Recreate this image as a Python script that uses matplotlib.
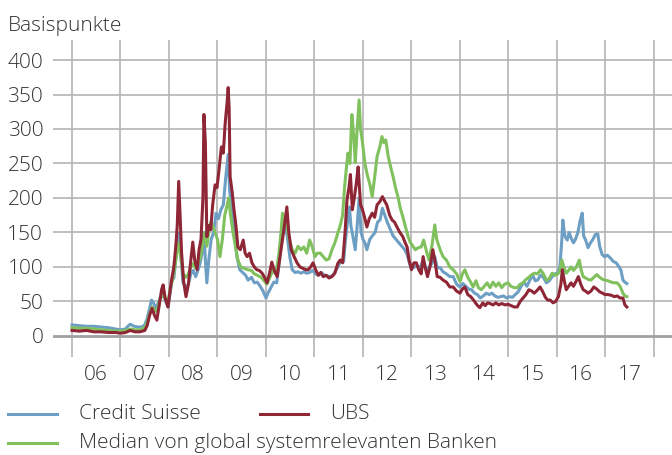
import matplotlib
matplotlib.use("Agg")
import matplotlib.pyplot as plt
from matplotlib.lines import Line2D

plt.rcParams['font.family'] = ['Open Sans', 'DejaVu Sans']
plt.rcParams['font.weight'] = 'light'

# ---------------- data (decimal years, basis points) ----------------
ubs_t = [2006.00, 2006.15, 2006.30, 2006.45, 2006.60, 2006.75, 2006.90, 2007.00, 2007.10, 2007.20,
         2007.30, 2007.40, 2007.50, 2007.55, 2007.60, 2007.65, 2007.70, 2007.75, 2007.80, 2007.85,
         2007.88, 2007.92, 2007.98, 2008.03, 2008.06, 2008.10, 2008.14, 2008.17, 2008.20, 2008.23,
         2008.26, 2008.30, 2008.35, 2008.40, 2008.45, 2008.49, 2008.53, 2008.58, 2008.62, 2008.66,
         2008.70, 2008.72, 2008.75, 2008.78, 2008.82, 2008.86, 2008.90, 2008.95, 2008.99, 2009.03,
         2009.08, 2009.12, 2009.16, 2009.20, 2009.22, 2009.24, 2009.26, 2009.30, 2009.34, 2009.38,
         2009.42, 2009.47, 2009.53, 2009.57, 2009.61, 2009.66, 2009.71, 2009.76, 2009.81, 2009.86,
         2009.92, 2009.97, 2010.02, 2010.07, 2010.12, 2010.17, 2010.23, 2010.28, 2010.33, 2010.38,
         2010.43, 2010.47, 2010.52, 2010.58, 2010.64, 2010.70, 2010.76, 2010.82, 2010.87, 2010.92,
         2010.97, 2011.03, 2011.08, 2011.13, 2011.18, 2011.24, 2011.30, 2011.36, 2011.42, 2011.48,
         2011.53, 2011.58, 2011.63, 2011.67, 2011.71, 2011.74, 2011.78, 2011.82, 2011.86, 2011.90,
         2011.95, 2011.99, 2012.04, 2012.08, 2012.13, 2012.19, 2012.24, 2012.29, 2012.35, 2012.40,
         2012.45, 2012.49, 2012.55, 2012.60, 2012.65, 2012.70, 2012.76, 2012.82, 2012.87, 2012.91,
         2012.95, 2013.00, 2013.05, 2013.10, 2013.15, 2013.20, 2013.24, 2013.28, 2013.33, 2013.38,
         2013.44, 2013.48, 2013.53, 2013.59, 2013.65, 2013.72, 2013.79, 2013.86, 2013.93, 2014.00,
         2014.05, 2014.10, 2014.16, 2014.22, 2014.28, 2014.35, 2014.41, 2014.47, 2014.52, 2014.57,
         2014.62, 2014.68, 2014.74, 2014.80, 2014.86, 2014.93, 2014.99, 2015.05, 2015.12, 2015.18,
         2015.24, 2015.30, 2015.36, 2015.42, 2015.48, 2015.53, 2015.59, 2015.65, 2015.70, 2015.76,
         2015.81, 2015.86, 2015.92, 2015.97, 2016.03, 2016.08, 2016.11, 2016.15, 2016.19, 2016.24,
         2016.29, 2016.34, 2016.40, 2016.44, 2016.49, 2016.54, 2016.59, 2016.64, 2016.70, 2016.76,
         2016.82, 2016.88, 2016.94, 2016.99, 2017.05, 2017.12, 2017.18, 2017.24, 2017.30, 2017.36,
         2017.40, 2017.44]
ubs_v = [8, 7, 8, 6, 6, 5, 5, 4, 5, 8,
         6, 6, 8, 15, 30, 40, 30, 23, 45, 68,
         74, 55, 42, 70, 84, 100, 130, 160, 224, 170,
         120, 80, 57, 75, 110, 136, 110, 96, 125, 140,
         200, 321, 280, 144, 160, 154, 190, 219, 215, 240,
         274, 265, 310, 340, 360, 330, 231, 210, 183, 160,
         129, 125, 139, 120, 115, 120, 106, 100, 96, 95,
         91, 85, 77, 90, 107, 95, 86, 110, 135, 160,
         187, 150, 125, 115, 106, 100, 98, 96, 96, 100,
         106, 95, 88, 92, 86, 88, 84, 86, 91, 105,
         110, 106, 150, 197, 215, 234, 183, 200, 220, 245,
         190, 183, 170, 158, 170, 178, 172, 190, 195, 202,
         195, 190, 175, 168, 165, 158, 150, 144, 135, 129,
         110, 96, 106, 106, 96, 90, 115, 100, 86, 100,
         125, 110, 86, 85, 81, 78, 71, 71, 65, 62,
         68, 71, 60, 57, 52, 45, 41, 48, 44, 48,
         47, 45, 48, 45, 47, 45, 46, 44, 42, 42,
         50, 55, 60, 67, 65, 62, 66, 71, 65, 56,
         52, 52, 48, 50, 57, 75, 96, 80, 67, 72,
         77, 72, 80, 86, 75, 67, 65, 62, 65, 71,
         68, 64, 62, 60, 60, 59, 57, 58, 55, 55,
         45, 42]

cs_t = [2006.00, 2006.15, 2006.30, 2006.45, 2006.60, 2006.75, 2006.90, 2007.00, 2007.10, 2007.15,
        2007.20, 2007.28, 2007.36, 2007.44, 2007.50, 2007.55, 2007.60, 2007.64, 2007.68, 2007.72,
        2007.76, 2007.82, 2007.88, 2007.93, 2007.98, 2008.03, 2008.06, 2008.10, 2008.14, 2008.18,
        2008.21, 2008.25, 2008.29, 2008.35, 2008.40, 2008.45, 2008.50, 2008.55, 2008.60, 2008.64,
        2008.68, 2008.72, 2008.75, 2008.78, 2008.82, 2008.87, 2008.92, 2008.97, 2009.02, 2009.07,
        2009.12, 2009.17, 2009.22, 2009.25, 2009.28, 2009.32, 2009.36, 2009.40, 2009.46, 2009.52,
        2009.58, 2009.63, 2009.70, 2009.76, 2009.82, 2009.88, 2009.94, 2010.00, 2010.04, 2010.10,
        2010.16, 2010.22, 2010.28, 2010.32, 2010.35, 2010.39, 2010.44, 2010.49, 2010.54, 2010.60,
        2010.66, 2010.72, 2010.78, 2010.84, 2010.90, 2010.96, 2011.02, 2011.08, 2011.14, 2011.20,
        2011.26, 2011.32, 2011.38, 2011.44, 2011.50, 2011.56, 2011.60, 2011.64, 2011.68, 2011.72,
        2011.75, 2011.79, 2011.84, 2011.88, 2011.92, 2011.96, 2012.00, 2012.04, 2012.08, 2012.14,
        2012.19, 2012.25, 2012.30, 2012.35, 2012.40, 2012.45, 2012.50, 2012.56, 2012.62, 2012.68,
        2012.74, 2012.80, 2012.86, 2012.91, 2012.96, 2013.00, 2013.06, 2013.12, 2013.18, 2013.24,
        2013.30, 2013.36, 2013.42, 2013.48, 2013.53, 2013.59, 2013.65, 2013.72, 2013.79, 2013.86,
        2013.93, 2014.00, 2014.06, 2014.12, 2014.18, 2014.24, 2014.30, 2014.36, 2014.42, 2014.48,
        2014.54, 2014.60, 2014.66, 2014.72, 2014.78, 2014.84, 2014.90, 2014.96, 2015.02, 2015.08,
        2015.14, 2015.20, 2015.26, 2015.32, 2015.38, 2015.44, 2015.50, 2015.55, 2015.60, 2015.66,
        2015.72, 2015.78, 2015.84, 2015.90, 2015.96, 2016.02, 2016.06, 2016.10, 2016.12, 2016.16,
        2016.21, 2016.25, 2016.29, 2016.34, 2016.38, 2016.43, 2016.48, 2016.52, 2016.55, 2016.59,
        2016.64, 2016.69, 2016.74, 2016.79, 2016.84, 2016.88, 2016.93, 2016.98, 2017.04, 2017.10,
        2017.16, 2017.22, 2017.28, 2017.32, 2017.36, 2017.40, 2017.44]
cs_v = [16, 15, 14, 14, 13, 12, 10, 9, 10, 14,
        17, 14, 13, 13, 16, 25, 40, 52, 48, 41,
        45, 55, 62, 50, 42, 65, 81, 84, 110, 140,
        149, 110, 77, 70, 75, 90, 95, 86, 96, 105,
        120, 150, 110, 77, 110, 140, 150, 178, 170, 183,
        190, 230, 263, 210, 193, 168, 140, 115, 96, 92,
        88, 81, 85, 77, 78, 72, 65, 55, 62, 70,
        78, 77, 110, 150, 173, 160, 144, 115, 96, 92,
        93, 91, 93, 91, 92, 95, 90, 88, 92, 88,
        87, 86, 88, 95, 103, 110, 108, 140, 165, 187,
        160, 145, 125, 160, 200, 150, 140, 135, 125, 140,
        145, 150, 165, 168, 185, 175, 165, 155, 145, 140,
        135, 130, 125, 118, 105, 98, 100, 101, 99, 110,
        97, 99, 105, 115, 99, 99, 93, 90, 86, 86,
        75, 71, 76, 72, 68, 67, 62, 60, 55, 58,
        62, 60, 62, 58, 56, 57, 58, 55, 57, 56,
        60, 64, 72, 78, 72, 81, 88, 80, 81, 88,
        85, 77, 80, 86, 90, 92, 100, 140, 168, 145,
        139, 150, 142, 135, 140, 150, 168, 178, 145, 139,
        128, 135, 140, 147, 148, 130, 118, 115, 117, 113,
        108, 106, 100, 95, 81, 78, 76]

med_t = [2006.00, 2006.15, 2006.30, 2006.45, 2006.60, 2006.75, 2006.90, 2007.00, 2007.10, 2007.20,
         2007.30, 2007.40, 2007.50, 2007.55, 2007.60, 2007.65, 2007.70, 2007.75, 2007.80, 2007.86,
         2007.92, 2007.98, 2008.03, 2008.07, 2008.12, 2008.16, 2008.20, 2008.24, 2008.29, 2008.35,
         2008.40, 2008.45, 2008.50, 2008.55, 2008.60, 2008.65, 2008.70, 2008.74, 2008.78, 2008.82,
         2008.86, 2008.90, 2008.95, 2009.00, 2009.05, 2009.10, 2009.15, 2009.20, 2009.23, 2009.27,
         2009.32, 2009.37, 2009.42, 2009.48, 2009.55, 2009.62, 2009.70, 2009.76, 2009.82, 2009.90,
         2009.96, 2010.02, 2010.08, 2010.14, 2010.20, 2010.26, 2010.31, 2010.34, 2010.38, 2010.43,
         2010.48, 2010.54, 2010.60, 2010.66, 2010.72, 2010.78, 2010.84, 2010.90, 2010.95, 2011.01,
         2011.06, 2011.12, 2011.18, 2011.24, 2011.30, 2011.36, 2011.42, 2011.48, 2011.53, 2011.58,
         2011.62, 2011.66, 2011.69, 2011.73, 2011.77, 2011.81, 2011.84, 2011.88, 2011.92, 2011.95,
         2011.99, 2012.04, 2012.08, 2012.14, 2012.19, 2012.24, 2012.29, 2012.35, 2012.39, 2012.43,
         2012.47, 2012.52, 2012.57, 2012.62, 2012.67, 2012.72, 2012.77, 2012.82, 2012.87, 2012.93,
         2012.98, 2013.03, 2013.08, 2013.14, 2013.20, 2013.25, 2013.30, 2013.36, 2013.42, 2013.48,
         2013.52, 2013.59, 2013.65, 2013.72, 2013.79, 2013.86, 2013.93, 2014.00, 2014.05, 2014.10,
         2014.16, 2014.22, 2014.27, 2014.33, 2014.38, 2014.44, 2014.50, 2014.56, 2014.62, 2014.68,
         2014.74, 2014.80, 2014.86, 2014.92, 2014.99, 2015.05, 2015.12, 2015.18, 2015.24, 2015.30,
         2015.36, 2015.42, 2015.48, 2015.54, 2015.60, 2015.66, 2015.72, 2015.78, 2015.84, 2015.90,
         2015.96, 2016.02, 2016.06, 2016.10, 2016.14, 2016.19, 2016.24, 2016.29, 2016.34, 2016.40,
         2016.46, 2016.50, 2016.54, 2016.59, 2016.64, 2016.70, 2016.76, 2016.82, 2016.88, 2016.94,
         2016.99, 2017.05, 2017.12, 2017.18, 2017.24, 2017.30, 2017.36, 2017.40, 2017.44]
med_v = [12, 11, 11, 10, 9, 8, 7, 7, 8, 10,
         9, 9, 12, 20, 32, 42, 38, 35, 50, 60,
         55, 50, 70, 80, 100, 120, 135, 115, 90, 85,
         90, 100, 105, 98, 105, 115, 135, 150, 130, 150,
         165, 160, 150, 140, 115, 140, 175, 190, 200, 175,
         150, 130, 110, 100, 98, 96, 95, 90, 88, 85,
         80, 75, 85, 95, 90, 115, 150, 178, 165, 160,
         140, 125, 120, 130, 125, 129, 120, 139, 130, 115,
         120, 120, 115, 110, 112, 125, 135, 149, 160, 175,
         216, 245, 265, 250, 321, 290, 251, 300, 342, 300,
         280, 250, 236, 220, 202, 230, 260, 275, 289, 280,
         284, 260, 245, 231, 215, 202, 185, 173, 160, 144,
         135, 130, 125, 128, 129, 139, 125, 110, 130, 161,
         140, 125, 115, 110, 100, 96, 90, 79, 90, 96,
         85, 78, 71, 80, 70, 67, 72, 77, 70, 78,
         72, 77, 70, 75, 77, 72, 70, 70, 75, 77,
         82, 85, 89, 91, 90, 96, 90, 81, 83, 91,
         88, 90, 95, 110, 100, 91, 95, 100, 95, 100,
         110, 95, 86, 84, 82, 81, 85, 89, 85, 82,
         81, 80, 78, 77, 77, 72, 62, 58, 57]

years = list(range(2006, 2018))
year_labels = ['06', '07', '08', '09', '10', '11', '12', '13', '14', '15', '16', '17']
y_ticks = [0, 50, 100, 150, 200, 250, 300, 350, 400]

series_names = ['Credit Suisse', 'UBS', 'Median von global systemrelevanten Banken']
c_cs = '#6d9fc5'
c_ubs = '#8f2636'
c_med = '#80c15e'

# ---------------- figure ----------------
W, H = 672, 455
fig = plt.figure(figsize=(W / 100, H / 100), dpi=100)
ax = fig.add_axes([53 / W, (H - 357) / H, (672 - 53) / W, (357 - 40) / H])

x0 = 2006 - (72 - 53) / 48.5
x1 = 2006 + (672 - 72) / 48.5
ax.set_xlim(x0, x1)
ax.set_ylim(-30.5, 429)

grid_c = '#b4b4b4'
for v in y_ticks:
    if v == 0:
        continue
    ax.axhline(v, color=grid_c, lw=1.2, zorder=1)
for yr in years + [2018]:
    ax.axvline(yr, color=grid_c, lw=1.2, zorder=1)
ax.axhline(0, color='#a0a0a0', lw=2.0, zorder=1)

lw = 2.2
ax.plot(cs_t, cs_v, color=c_cs, lw=lw, zorder=3, solid_joinstyle='round')
ax.plot(med_t, med_v, color=c_med, lw=lw, zorder=4, solid_joinstyle='round')
ax.plot(ubs_t, ubs_v, color=c_ubs, lw=lw, zorder=5, solid_joinstyle='round')

for s in ax.spines.values():
    s.set_visible(False)

txt_c = '#333333'
fs = 15
ax.set_yticks(y_ticks)
ax.set_yticklabels([str(v) for v in y_ticks], fontsize=fs, color=txt_c)
ax.tick_params(axis='y', length=0, pad=7)
ax.set_xticks([y + 0.5 for y in years])
ax.set_xticklabels(year_labels, fontsize=fs, color=txt_c)
ax.tick_params(axis='x', length=0, pad=6)

fig.text(8 / W, 1 - 26 / H, 'Basispunkte', fontsize=fs, color=txt_c, va='center', ha='left')

# legend drawn manually
def leg(xa, xb, xt, yy, color, label):
    fig.add_artist(Line2D([xa / W, xb / W], [1 - yy / H, 1 - yy / H], color=color, lw=lw))
    fig.text(xt / W, 1 - yy / H, label, fontsize=fs, color=txt_c, va='center', ha='left')

leg(8, 57, 79, 414, c_cs, series_names[0])
leg(260, 308, 330, 414, c_ubs, series_names[1])
leg(8, 57, 79, 443, c_med, series_names[2])

fig.savefig('out.png', dpi=100)
